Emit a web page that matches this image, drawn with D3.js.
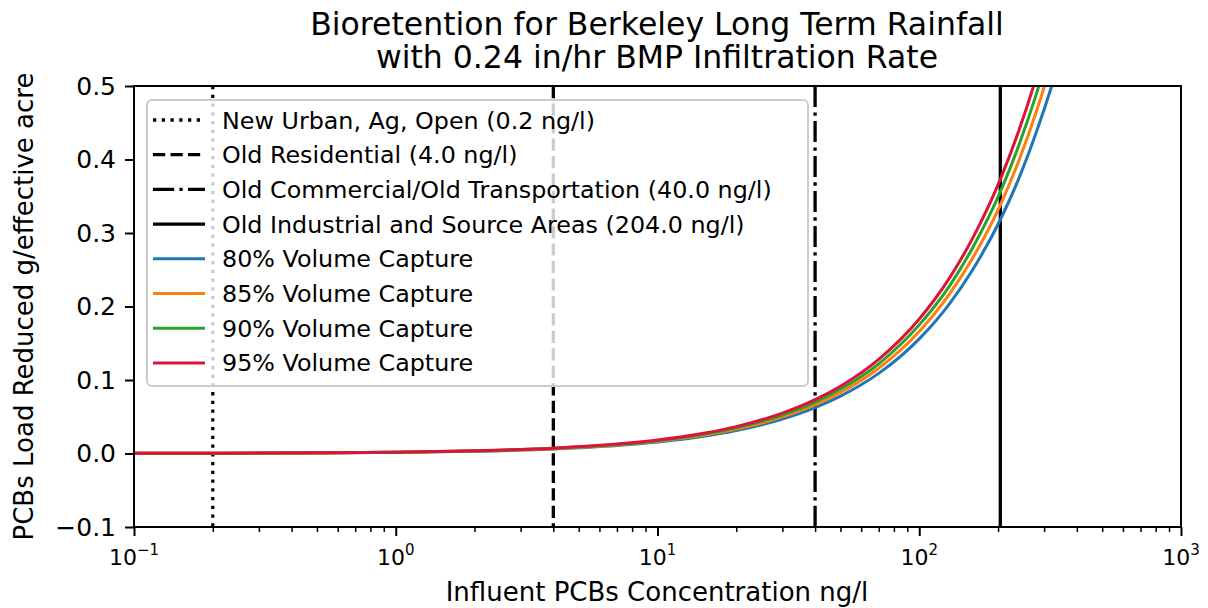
<!DOCTYPE html>
<html>
<head>
<meta charset="utf-8">
<script src="https://cdn.jsdelivr.net/npm/d3@7"></script>
<style>
  html, body { margin: 0; padding: 0; background: #ffffff; }
  svg { display: block; font-family: "DejaVu Sans", sans-serif; }
</style>
</head>
<body>
<svg id="chart" width="1208" height="608"></svg>
<script>
// ---------------- DATA ----------------
const titleLines = ["Bioretention for Berkeley Long Term Rainfall", "with 0.24 in/hr BMP Infiltration Rate"];
const xLabel = "Influent PCBs Concentration ng/l";
const yLabel = "PCBs Load Reduced g/effective acre";

const xTickValues = [0.1, 1, 10, 100, 1000];
const xTickExponents = ["\u22121", "0", "1", "2", "3"];
const yTickValues = [-0.1, 0.0, 0.1, 0.2, 0.3, 0.4, 0.5];

// land-use reference concentrations (vertical lines)
const landUseNames = [
  "New Urban, Ag, Open (0.2 ng/l)",
  "Old Residential (4.0 ng/l)",
  "Old Commercial/Old Transportation (40.0 ng/l)",
  "Old Industrial and Source Areas (204.0 ng/l)"
];
const landUseConc = [0.2, 4.0, 40.0, 204.0];

// capture curves
const seriesNames = ["80% Volume Capture", "85% Volume Capture", "90% Volume Capture", "95% Volume Capture"];
const concentrations = [0.1, 0.2, 0.5, 1, 2, 4, 7, 10, 15, 20, 30, 40, 50, 70, 100, 130, 160, 204, 240, 280, 320, 340];
const capture80 = [0.0002, 0.0003, 0.0008, 0.0016, 0.0031, 0.0062, 0.0109, 0.0156, 0.0234, 0.0312, 0.0468, 0.0624, 0.078, 0.109, 0.156, 0.203, 0.250, 0.318, 0.374, 0.437, 0.499, 0.530];
const capture85 = [0.0002, 0.0003, 0.0008, 0.0017, 0.0033, 0.0066, 0.0116, 0.0166, 0.0249, 0.0332, 0.0498, 0.0664, 0.083, 0.116, 0.166, 0.216, 0.266, 0.338, 0.398, 0.465, 0.531, 0.564];
const capture90 = [0.0002, 0.0003, 0.0009, 0.0017, 0.0035, 0.0070, 0.0122, 0.0175, 0.0262, 0.035, 0.0524, 0.0699, 0.0874, 0.122, 0.175, 0.227, 0.280, 0.356, 0.419, 0.489, 0.559, 0.594];
const capture95 = [0.0002, 0.0004, 0.0009, 0.0018, 0.0037, 0.0073, 0.0128, 0.0183, 0.0275, 0.0366, 0.0549, 0.0732, 0.0915, 0.128, 0.183, 0.238, 0.293, 0.373, 0.439, 0.512, 0.586, 0.622];
const seriesValues = [capture80, capture85, capture90, capture95];

// ---------------- STYLE ----------------
const seriesColors = ["#1f77b4", "#ff7f0e", "#2ca02c", "#dc143c"];
const lw = 3.3;
const landUseDash = [`${lw},${lw*1.65}`, `${lw*3.7},${lw*1.6}`, `${lw*6.4},${lw*1.6},${lw},${lw*1.6}`, null];

const svg = d3.select("#chart");
const margin = { left: 134, right: 1208 - 1181, top: 86, bottom: 608 - 527 };
const W = 1208, H = 608;
const plotW = W - margin.left - margin.right;
const plotH = H - margin.top - margin.bottom;

const x = d3.scaleLog().domain([0.1, 1000]).range([margin.left, margin.left + plotW]);
const y = d3.scaleLinear().domain([-0.1, 0.5]).range([margin.top + plotH, margin.top]);

svg.append("rect").attr("width", W).attr("height", H).attr("fill", "#fff");

svg.append("defs").append("clipPath").attr("id", "plotclip")
  .append("rect").attr("x", margin.left).attr("y", margin.top).attr("width", plotW).attr("height", plotH);

const plot = svg.append("g").attr("clip-path", "url(#plotclip)");

// vertical reference lines
plot.selectAll("line.ref").data(landUseConc).join("line")
  .attr("class", "ref")
  .attr("x1", d => x(d)).attr("x2", d => x(d))
  .attr("y1", margin.top).attr("y2", margin.top + plotH)
  .attr("stroke", "#000").attr("stroke-width", lw)
  .attr("stroke-dasharray", (d, i) => landUseDash[i]);

// curves
const line = d3.line()
  .x(d => x(d[0])).y(d => y(d[1]))
  .curve(d3.curveMonotoneX);
seriesValues.forEach((vals, i) => {
  plot.append("path")
    .datum(concentrations.map((c, j) => [c, vals[j]]))
    .attr("d", line)
    .attr("fill", "none")
    .attr("stroke", seriesColors[i])
    .attr("stroke-width", 3);
});

// axes
const xAxis = d3.axisBottom(x).tickValues(xTickValues).tickSize(9).tickPadding(6).tickFormat("");
const gx = svg.append("g").attr("transform", `translate(0,${margin.top + plotH})`).call(xAxis);
gx.select(".domain").remove();
gx.selectAll(".tick line").attr("stroke-width", 2);

// minor ticks
const minorVals = [];
for (let e = -1; e < 3; e++) for (let m = 2; m <= 9; m++) minorVals.push(m * Math.pow(10, e));
const xMinor = d3.axisBottom(x).tickValues(minorVals).tickSize(5).tickFormat("");
const gxm = svg.append("g").attr("transform", `translate(0,${margin.top + plotH})`).call(xMinor);
gxm.select(".domain").remove();
gxm.selectAll(".tick line").attr("stroke-width", 1.5);

// x tick labels with superscripts
const xl = svg.append("g");
xTickValues.forEach((v, i) => {
  const t = xl.append("text")
    .attr("x", x(v)).attr("y", 565)
    .attr("text-anchor", "middle")
    .attr("font-size", 22).attr("fill", "#000");
  t.append("tspan").text("10");
  t.append("tspan").attr("dy", -10).attr("font-size", 15).text(xTickExponents[i]);
});

const yAxis = d3.axisLeft(y).tickValues(yTickValues).tickSize(9).tickPadding(9)
  .tickFormat(d => d3.format(".1f")(d).replace("-", "\u2212"));
const gy = svg.append("g").attr("transform", `translate(${margin.left},0)`).call(yAxis);
gy.select(".domain").remove();
gy.selectAll(".tick line").attr("stroke-width", 2);
gy.selectAll(".tick text").attr("font-size", 25).attr("font-family", "DejaVu Sans").attr("fill", "#000");

// frame
svg.append("rect")
  .attr("x", margin.left).attr("y", margin.top).attr("width", plotW).attr("height", plotH)
  .attr("fill", "none").attr("stroke", "#000").attr("stroke-width", 2);

// legend
const leg = svg.append("g");
leg.append("rect")
  .attr("x", 147).attr("y", 100).attr("width", 661).attr("height", 286)
  .attr("rx", 5).attr("ry", 5)
  .attr("fill", "#fff").attr("fill-opacity", 0.8)
  .attr("stroke", "#cccccc").attr("stroke-width", 2);
const legendItems = landUseNames.map((n, i) => ({ name: n, color: "#000", dash: landUseDash[i], w: lw }))
  .concat(seriesNames.map((n, i) => ({ name: n, color: seriesColors[i], dash: null, w: 3 })));
legendItems.forEach((it, i) => {
  const cy = 120 + i * 34.7;
  leg.append("line")
    .attr("x1", 153).attr("x2", 205).attr("y1", cy).attr("y2", cy)
    .attr("stroke", it.color).attr("stroke-width", it.w)
    .attr("stroke-dasharray", it.dash);
  leg.append("text")
    .attr("x", 222).attr("y", cy + 8.5)
    .attr("font-size", 23.8).attr("fill", "#000")
    .text(it.name);
});

// title
svg.append("text").attr("x", 657).attr("y", 35).attr("text-anchor", "middle")
  .attr("font-size", 31.5).attr("fill", "#000").text(titleLines[0]);
svg.append("text").attr("x", 657).attr("y", 68).attr("text-anchor", "middle")
  .attr("font-size", 31.5).attr("fill", "#000").text(titleLines[1]);

// axis labels
svg.append("text").attr("x", 657).attr("y", 601).attr("text-anchor", "middle")
  .attr("font-size", 26).attr("fill", "#000").text(xLabel);
svg.append("text").attr("transform", `translate(33,${(margin.top + margin.top + plotH) / 2}) rotate(-90)`)
  .attr("text-anchor", "middle")
  .attr("font-size", 26).attr("fill", "#000").text(yLabel);
</script>
</body>
</html>
